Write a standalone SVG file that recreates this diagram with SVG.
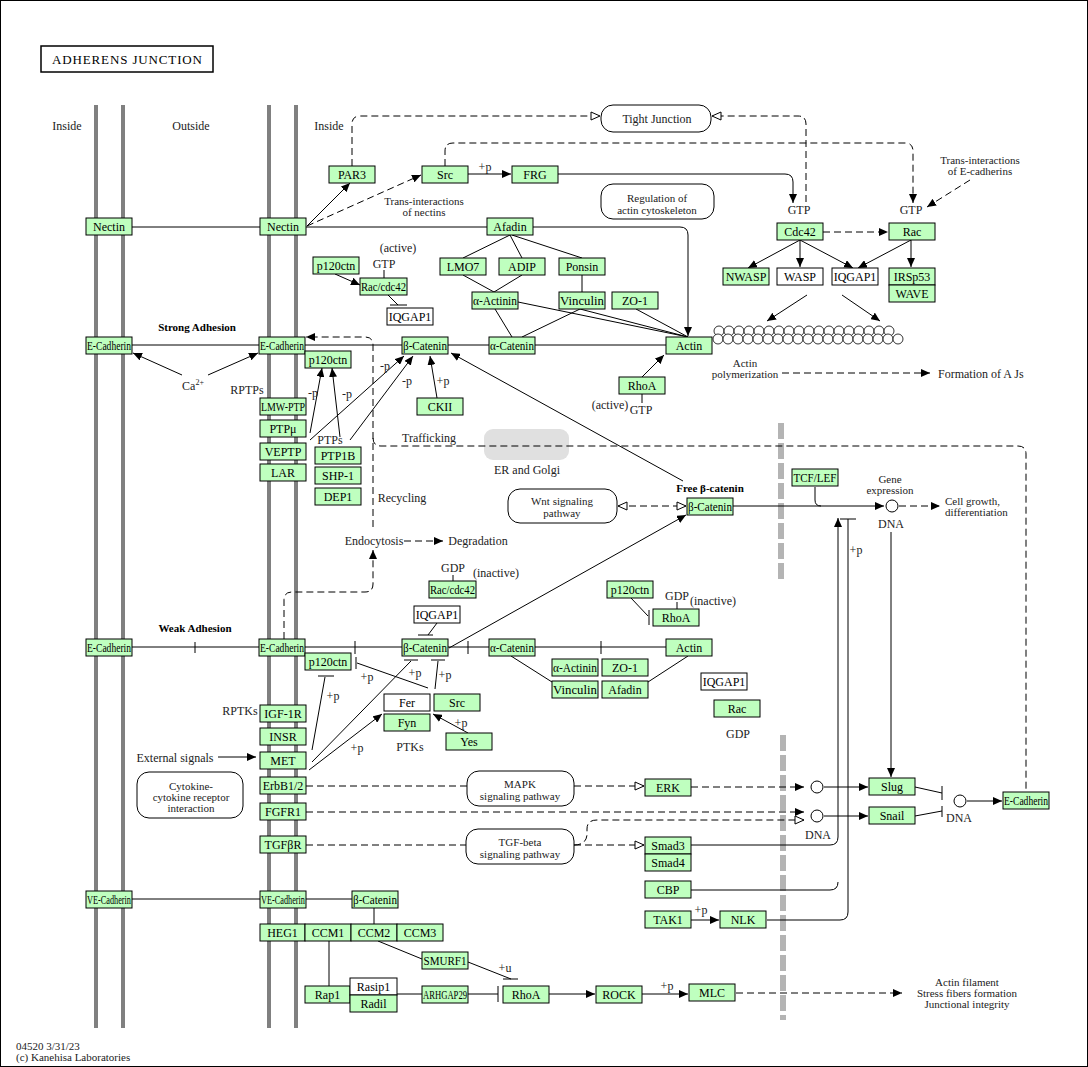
<svg xmlns="http://www.w3.org/2000/svg" width="1088" height="1067" viewBox="0 0 1088 1067">
<style>
.n{fill:#bfffbf;stroke:#000;stroke-width:1}
.w{fill:#fff;stroke:#000;stroke-width:1}
text{font-family:"Liberation Serif","Times New Roman",Times,"DejaVu Serif",serif}
.t{font-size:12px;text-anchor:middle;fill:#000}
.s{font-size:12px;text-anchor:middle;fill:#222}
.m{font-size:11px;text-anchor:middle;fill:#222}
.sl{font-size:12px;fill:#222}
.ml{font-size:11px;fill:#222}
.b{font-size:11px;font-weight:bold;text-anchor:middle;fill:#000}
.l{fill:none;stroke:#000;stroke-width:1}
.d{fill:none;stroke:#000;stroke-width:1;stroke-dasharray:7,4}
.pw{fill:#fff;stroke:#000;stroke-width:1}
.mem{stroke:#808080;stroke-width:4}
.gb{stroke:#b4b4b4;stroke-width:6;stroke-dasharray:16,4}
.bead{fill:#fff;stroke:#000;stroke-width:0.8}
</style>
<defs>
<marker id="a" viewBox="0 0 9 8" refX="9" refY="4" markerWidth="9" markerHeight="8" orient="auto" markerUnits="userSpaceOnUse"><path d="M0,0 L9,4 L0,8 z" fill="#000"/></marker>
<marker id="o" viewBox="-1 -1 11 10" refX="9" refY="4" markerWidth="11" markerHeight="10" orient="auto-start-reverse" markerUnits="userSpaceOnUse"><path d="M0,0 L9,4 L0,8 z" fill="#fff" stroke="#000" stroke-width="1"/></marker>
</defs>
<rect x="0.5" y="0.5" width="1087" height="1066" fill="#fff" stroke="#000"/>
<g id="title"><rect x="41" y="46" width="172" height="26" fill="#fff" stroke="#000" stroke-width="1.5"/><text x="127" y="64" class="t" style="font-size:13px" textLength="150" lengthAdjust="spacing">ADHERENS JUNCTION</text></g>
<g id="membranes">
<line x1="96" y1="105" x2="96" y2="1028" class="mem"/>
<line x1="123" y1="105" x2="123" y2="1028" class="mem"/>
<line x1="269" y1="105" x2="269" y2="1028" class="mem"/>
<line x1="296" y1="105" x2="296" y2="1028" class="mem"/>
<line x1="781" y1="423" x2="781" y2="580" class="gb"/>
<line x1="783" y1="735" x2="783" y2="1020" class="gb"/>
</g>
<g id="areas">
<rect x="484" y="429" width="85" height="31" rx="9" fill="#e0e0e0"/>
<rect x="601" y="105" width="110" height="27" rx="12" class="pw"/>
<rect x="601" y="184" width="113" height="35" rx="12" class="pw"/>
<rect x="508" y="489" width="109" height="34" rx="12" class="pw"/>
<rect x="467" y="771" width="107" height="35" rx="12" class="pw"/>
<rect x="466" y="829" width="108" height="35" rx="12" class="pw"/>
<rect x="137" y="772" width="106" height="46" rx="12" class="pw"/>
</g>
<g id="connectors">
<path class="l" d="M132,227 H260"/>
<path class="l" d="M306,227 H487"/>
<path class="l" d="M533,227 H680 Q688,227 688,235 V336" marker-end="url(#a)"/>
<path class="l" d="M307,226 L350,183" marker-end="url(#a)"/>
<path class="d" d="M307,226 L421,175" marker-end="url(#a)"/>
<path class="d" d="M352,166 V124 Q352,116 360,116 H600" marker-end="url(#o)"/>
<path class="d" d="M445,166 V151 Q445,143 453,143 H905 Q913,143 913,151 V203" marker-end="url(#a)"/>
<path class="l" d="M468,174 H511" marker-end="url(#a)"/>
<path class="l" d="M558,174 H785 Q793,174 793,182 V203" marker-end="url(#a)"/>
<path class="d" d="M806,202 V124 Q806,116 798,116 H712" marker-end="url(#o)"/>
<path class="d" d="M823,232 H888" marker-end="url(#a)"/>
<path class="l" d="M800,240 L748,268" marker-end="url(#a)"/>
<path class="l" d="M800,240 V267" marker-end="url(#a)"/>
<path class="l" d="M800,240 L853,268" marker-end="url(#a)"/>
<path class="l" d="M911,240 L858,268" marker-end="url(#a)"/>
<path class="l" d="M911,240 V267" marker-end="url(#a)"/>
<path class="d" d="M970,180 L927,207" marker-end="url(#a)"/>
<path class="l" d="M807,295 L767,321" marker-end="url(#a)"/>
<path class="l" d="M842,295 L880,321" marker-end="url(#a)"/>
<path class="l" d="M510,235 L463,258 M510,235 L522,258 M512,235 L582,258"/>
<path class="l" d="M463,275 L494,292 M522,275 L494,292 M582,275 V292"/>
<path class="l" d="M495,309 L512,337 M522,337 L580,309"/>
<path class="l" d="M518,302 L688,337 M580,309 L688,337 M636,309 L688,337"/>
<path class="l" d="M448,345 H489 M535,345 H666 M305,345 H402 M132,345 H259"/>
<path class="l" d="M182,375 L133,353" marker-end="url(#a)"/>
<path class="l" d="M208,375 L258,353" marker-end="url(#a)"/>
<path class="l" d="M335,274 L360,285" marker-end="url(#a)"/>
<path class="l" d="M384,270 V278"/>
<path class="l" d="M388,295 L398,305 M390,305 H407"/>
<path class="d" d="M373,527 V345 Q373,337 365,337 H306" marker-end="url(#a)"/>
<path class="d" d="M373,438 Q373,446 381,446 H1018 Q1026,446 1026,454 V792"/>
<path class="l" d="M310,433 L322,368" marker-end="url(#a)"/>
<path class="l" d="M340,437 L332,368" marker-end="url(#a)"/>
<path class="l" d="M310,440 L404,356" marker-end="url(#a)"/>
<path class="l" d="M350,440 L413,356" marker-end="url(#a)"/>
<path class="l" d="M437,398 L430,356" marker-end="url(#a)"/>
<path class="l" d="M642,377 L664,355" marker-end="url(#a)"/>
<path class="l" d="M642,393 V403"/>
<path class="l" d="M683,481 L451,353" marker-end="url(#a)"/>
<path class="l" d="M449,648 L686,515" marker-end="url(#a)"/>
<path class="d" d="M618,506 H686" marker-start="url(#o)" marker-end="url(#o)"/>
<path class="l" d="M733,506 H884" marker-end="url(#a)"/>
<path class="l" d="M815,487 V500 Q815,506 821,506"/>
<path class="d" d="M899,506 H940" marker-end="url(#a)"/>
<path class="l" d="M891,532 V777" marker-end="url(#a)"/>
<path class="l" d="M691,845 H830 Q838,845 838,837 V518" marker-end="url(#a)"/>
<path class="l" d="M691,890 H830 Q838,890 838,882"/>
<path class="l" d="M767,920 H840 Q848,920 848,912 V519 M840,519 H856"/>
<path class="d" d="M306,786 H467"/>
<path class="d" d="M574,786 H644" marker-end="url(#o)"/>
<path class="d" d="M691,787 H804" marker-end="url(#a)"/>
<path class="l" d="M824,787 H868" marker-end="url(#a)"/>
<path class="d" d="M306,812 H804" marker-end="url(#a)"/>
<path class="d" d="M574,845 Q586,845 587,835 V829 Q587,820 597,820 H804" marker-end="url(#o)"/>
<path class="l" d="M824,816 H868" marker-end="url(#a)"/>
<path class="d" d="M306,845 H466"/>
<path class="d" d="M574,845 H644" marker-end="url(#o)"/>
<path class="l" d="M915,787 L942,793 M942,786 V800"/>
<path class="l" d="M915,816 L942,811 M942,806 V817"/>
<path class="l" d="M967,801 H1002" marker-end="url(#a)"/>
<path class="l" d="M218,757 H256" marker-end="url(#a)"/>
<path class="l" d="M312,750 L325,677 M318,676 H334"/>
<path class="l" d="M312,762 L411,661 M404,660 H418"/>
<path class="l" d="M309,770 L382,714" marker-end="url(#a)"/>
<path class="l" d="M435,689 L438,661 M431,660 H445"/>
<path class="l" d="M428,688 L357,663 M356,657 V669"/>
<path class="l" d="M468,733 L433,714" marker-end="url(#a)"/>
<path class="l" d="M437,623 L428,635 M418,635 H433"/>
<path class="l" d="M453,575 V581"/>
<path class="l" d="M631,598 L648,616 M649,610 V625"/>
<path class="l" d="M677,602 V609"/>
<path class="l" d="M132,647 H259 M195,642 V653 M305,647 H402 M355,641 V654 M448,647 H489 M468,641 V654 M535,647 H666 M601,641 V654"/>
<path class="l" d="M511,656 L552,682 M648,682 L688,656"/>
<path class="l" d="M132,899 H260 M306,899 H352 M374,908 V924"/>
<path class="l" d="M329,941 V986"/>
<path class="l" d="M378,941 L422,959"/>
<path class="l" d="M468,962 L511,979 M503,979 H518"/>
<path class="l" d="M397,994 H422"/>
<path class="l" d="M468,994 H498 M498,986 V1002"/>
<path class="l" d="M549,994 H595" marker-end="url(#a)"/>
<path class="l" d="M642,994 H688" marker-end="url(#a)"/>
<path class="d" d="M736,993 H902" marker-end="url(#a)"/>
<path class="l" d="M691,920 H719" marker-end="url(#a)"/>
<path class="d" d="M404,541 H443" marker-end="url(#a)"/>
<path class="d" d="M284,639 V600 Q284,592 292,592 H365 Q373,592 373,584 V550" marker-end="url(#a)"/>
<path class="d" d="M782,373 H930" marker-end="url(#a)"/>
</g>
<g id="actin_filament">
<circle class="bead" cx="719" cy="331" r="5"/><circle class="bead" cx="729" cy="331" r="5"/><circle class="bead" cx="739" cy="331" r="5"/><circle class="bead" cx="749" cy="331" r="5"/><circle class="bead" cx="759" cy="331" r="5"/><circle class="bead" cx="769" cy="331" r="5"/><circle class="bead" cx="779" cy="331" r="5"/><circle class="bead" cx="789" cy="331" r="5"/><circle class="bead" cx="799" cy="331" r="5"/><circle class="bead" cx="809" cy="331" r="5"/><circle class="bead" cx="819" cy="331" r="5"/><circle class="bead" cx="829" cy="331" r="5"/><circle class="bead" cx="839" cy="331" r="5"/><circle class="bead" cx="849" cy="331" r="5"/><circle class="bead" cx="859" cy="331" r="5"/><circle class="bead" cx="869" cy="331" r="5"/><circle class="bead" cx="879" cy="331" r="5"/><circle class="bead" cx="889" cy="331" r="5"/>
<circle class="bead" cx="718" cy="339" r="5"/><circle class="bead" cx="728" cy="339" r="5"/><circle class="bead" cx="738" cy="339" r="5"/><circle class="bead" cx="748" cy="339" r="5"/><circle class="bead" cx="758" cy="339" r="5"/><circle class="bead" cx="768" cy="339" r="5"/><circle class="bead" cx="778" cy="339" r="5"/><circle class="bead" cx="788" cy="339" r="5"/><circle class="bead" cx="798" cy="339" r="5"/><circle class="bead" cx="808" cy="339" r="5"/><circle class="bead" cx="818" cy="339" r="5"/><circle class="bead" cx="828" cy="339" r="5"/><circle class="bead" cx="838" cy="339" r="5"/><circle class="bead" cx="848" cy="339" r="5"/><circle class="bead" cx="858" cy="339" r="5"/><circle class="bead" cx="868" cy="339" r="5"/><circle class="bead" cx="878" cy="339" r="5"/><circle class="bead" cx="888" cy="339" r="5"/><circle class="bead" cx="898" cy="339" r="5"/>
</g>
<g id="dna">
<circle cx="892" cy="506" r="6" class="w"/>
<circle cx="817" cy="787" r="6" class="w"/>
<circle cx="817" cy="816" r="6" class="w"/>
<circle cx="960" cy="801" r="6" class="w"/>
</g>
<g id="nodes">
<g id="nectin_l"><rect x="86" y="218" width="46" height="17" class="n"/><text x="109" y="231" class="t">Nectin</text></g>
<g id="nectin_r"><rect x="260" y="218" width="46" height="17" class="n"/><text x="283" y="231" class="t">Nectin</text></g>
<g id="par3"><rect x="329" y="166" width="46" height="17" class="n"/><text x="352" y="179" class="t">PAR3</text></g>
<g id="src1"><rect x="422" y="166" width="46" height="17" class="n"/><text x="445" y="179" class="t">Src</text></g>
<g id="frg"><rect x="512" y="166" width="46" height="17" class="n"/><text x="535" y="179" class="t">FRG</text></g>
<g id="afadin1"><rect x="487" y="218" width="46" height="17" class="n"/><text x="510" y="231" class="t">Afadin</text></g>
<g id="p120_1"><rect x="313" y="257" width="46" height="17" class="n"/><text x="336" y="270" class="t">p120ctn</text></g>
<g id="raccdc42_1"><rect x="360" y="278" width="47" height="17" class="n"/><text x="383.5" y="291" class="t" textLength="45" lengthAdjust="spacingAndGlyphs">Rac/cdc42</text></g>
<g id="iqgap1_1"><rect x="387" y="308" width="46" height="17" class="w"/><text x="410" y="321" class="t">IQGAP1</text></g>
<g id="lmo7"><rect x="440" y="258" width="46" height="17" class="n"/><text x="463" y="271" class="t">LMO7</text></g>
<g id="adip"><rect x="499" y="258" width="46" height="17" class="n"/><text x="522" y="271" class="t">ADIP</text></g>
<g id="ponsin"><rect x="559" y="258" width="46" height="17" class="n"/><text x="582" y="271" class="t">Ponsin</text></g>
<g id="aactinin1"><rect x="472" y="292" width="46" height="17" class="n"/><text x="495" y="305" class="t" textLength="44" lengthAdjust="spacingAndGlyphs">α-Actinin</text></g>
<g id="vinculin1"><rect x="559" y="292" width="46" height="17" class="n"/><text x="582" y="305" class="t" textLength="44" lengthAdjust="spacingAndGlyphs">Vinculin</text></g>
<g id="zo1_1"><rect x="612" y="292" width="46" height="17" class="n"/><text x="635" y="305" class="t">ZO-1</text></g>
<g id="cdc42"><rect x="777" y="223" width="46" height="17" class="n"/><text x="800" y="236" class="t">Cdc42</text></g>
<g id="rac1"><rect x="889" y="223" width="46" height="17" class="n"/><text x="912" y="236" class="t">Rac</text></g>
<g id="nwasp"><rect x="723" y="268" width="46" height="17" class="n"/><text x="746" y="281" class="t">NWASP</text></g>
<g id="wasp"><rect x="777" y="268" width="46" height="17" class="w"/><text x="800" y="281" class="t">WASP</text></g>
<g id="iqgap1_2"><rect x="832" y="268" width="46" height="17" class="w"/><text x="855" y="281" class="t">IQGAP1</text></g>
<g id="irsp53"><rect x="889" y="268" width="46" height="17" class="n"/><text x="912" y="281" class="t">IRSp53</text></g>
<g id="wave"><rect x="889" y="285" width="46" height="17" class="n"/><text x="912" y="298" class="t">WAVE</text></g>
<g id="ecad_sl"><rect x="86" y="337" width="46" height="17" class="n"/><text x="109" y="350" class="t" textLength="44" lengthAdjust="spacingAndGlyphs">E-Cadherin</text></g>
<g id="ecad_sr"><rect x="259" y="337" width="46" height="17" class="n"/><text x="282" y="350" class="t" textLength="44" lengthAdjust="spacingAndGlyphs">E-Cadherin</text></g>
<g id="p120_2"><rect x="305" y="351" width="46" height="17" class="n"/><text x="328" y="364" class="t">p120ctn</text></g>
<g id="bcat1"><rect x="402" y="337" width="46" height="17" class="n"/><text x="425" y="350" class="t" textLength="44" lengthAdjust="spacingAndGlyphs">β-Catenin</text></g>
<g id="acat1"><rect x="489" y="337" width="46" height="17" class="n"/><text x="512" y="350" class="t" textLength="44" lengthAdjust="spacingAndGlyphs">α-Catenin</text></g>
<g id="actin1"><rect x="666" y="337" width="46" height="17" class="n"/><text x="689" y="350" class="t">Actin</text></g>
<g id="lmwptp"><rect x="260" y="398" width="46" height="17" class="n"/><text x="283" y="411" class="t" textLength="44" lengthAdjust="spacingAndGlyphs">LMW-PTP</text></g>
<g id="ptpmu"><rect x="260" y="420" width="46" height="17" class="n"/><text x="283" y="433" class="t">PTPμ</text></g>
<g id="veptp"><rect x="260" y="443" width="46" height="17" class="n"/><text x="283" y="456" class="t">VEPTP</text></g>
<g id="lar"><rect x="260" y="464" width="46" height="17" class="n"/><text x="283" y="477" class="t">LAR</text></g>
<g id="ptp1b"><rect x="315" y="447" width="46" height="17" class="n"/><text x="338" y="460" class="t">PTP1B</text></g>
<g id="shp1"><rect x="315" y="467" width="46" height="17" class="n"/><text x="338" y="480" class="t">SHP-1</text></g>
<g id="dep1"><rect x="315" y="488" width="46" height="17" class="n"/><text x="338" y="501" class="t">DEP1</text></g>
<g id="ckii"><rect x="417" y="398" width="46" height="17" class="n"/><text x="440" y="411" class="t">CKII</text></g>
<g id="rhoa1"><rect x="619" y="377" width="46" height="17" class="n"/><text x="642" y="390" class="t">RhoA</text></g>
<g id="bcat_free"><rect x="687" y="498" width="46" height="17" class="n"/><text x="710" y="511" class="t" textLength="44" lengthAdjust="spacingAndGlyphs">β-Catenin</text></g>
<g id="tcflef"><rect x="792" y="469" width="46" height="17" class="n"/><text x="815" y="482" class="t" textLength="43" lengthAdjust="spacingAndGlyphs">TCF/LEF</text></g>
<g id="raccdc42_2"><rect x="429" y="581" width="47" height="17" class="n"/><text x="452.5" y="594" class="t" textLength="45" lengthAdjust="spacingAndGlyphs">Rac/cdc42</text></g>
<g id="iqgap1_3"><rect x="414" y="606" width="46" height="17" class="w"/><text x="437" y="619" class="t">IQGAP1</text></g>
<g id="p120_4"><rect x="607" y="581" width="46" height="17" class="n"/><text x="630" y="594" class="t">p120ctn</text></g>
<g id="rhoa2"><rect x="653" y="609" width="46" height="17" class="n"/><text x="676" y="622" class="t">RhoA</text></g>
<g id="ecad_wl"><rect x="86" y="639" width="46" height="17" class="n"/><text x="109" y="652" class="t" textLength="44" lengthAdjust="spacingAndGlyphs">E-Cadherin</text></g>
<g id="ecad_wr"><rect x="259" y="639" width="46" height="17" class="n"/><text x="282" y="652" class="t" textLength="44" lengthAdjust="spacingAndGlyphs">E-Cadherin</text></g>
<g id="p120_3"><rect x="305" y="653" width="46" height="17" class="n"/><text x="328" y="666" class="t">p120ctn</text></g>
<g id="bcat2"><rect x="402" y="639" width="46" height="17" class="n"/><text x="425" y="652" class="t" textLength="44" lengthAdjust="spacingAndGlyphs">β-Catenin</text></g>
<g id="acat2"><rect x="489" y="639" width="46" height="17" class="n"/><text x="512" y="652" class="t" textLength="44" lengthAdjust="spacingAndGlyphs">α-Catenin</text></g>
<g id="actin2"><rect x="666" y="639" width="46" height="17" class="n"/><text x="689" y="652" class="t">Actin</text></g>
<g id="aactinin2"><rect x="552" y="659" width="46" height="17" class="n"/><text x="575" y="672" class="t" textLength="44" lengthAdjust="spacingAndGlyphs">α-Actinin</text></g>
<g id="zo1_2"><rect x="602" y="659" width="46" height="17" class="n"/><text x="625" y="672" class="t">ZO-1</text></g>
<g id="vinculin2"><rect x="552" y="681" width="46" height="17" class="n"/><text x="575" y="694" class="t" textLength="44" lengthAdjust="spacingAndGlyphs">Vinculin</text></g>
<g id="afadin2"><rect x="602" y="681" width="46" height="17" class="n"/><text x="625" y="694" class="t">Afadin</text></g>
<g id="iqgap1_4"><rect x="701" y="673" width="46" height="17" class="w"/><text x="724" y="686" class="t">IQGAP1</text></g>
<g id="rac2"><rect x="714" y="700" width="46" height="17" class="n"/><text x="737" y="713" class="t">Rac</text></g>
<g id="fer"><rect x="384" y="694" width="46" height="17" class="w"/><text x="407" y="707" class="t">Fer</text></g>
<g id="src2"><rect x="434" y="694" width="46" height="17" class="n"/><text x="457" y="707" class="t">Src</text></g>
<g id="fyn"><rect x="384" y="714" width="46" height="17" class="n"/><text x="407" y="727" class="t">Fyn</text></g>
<g id="yes"><rect x="446" y="733" width="46" height="17" class="n"/><text x="469" y="746" class="t">Yes</text></g>
<g id="igf1r"><rect x="260" y="705" width="46" height="17" class="n"/><text x="283" y="718" class="t">IGF-1R</text></g>
<g id="insr"><rect x="260" y="728" width="46" height="17" class="n"/><text x="283" y="741" class="t">INSR</text></g>
<g id="met"><rect x="260" y="752" width="46" height="17" class="n"/><text x="283" y="765" class="t">MET</text></g>
<g id="erbb"><rect x="260" y="777" width="46" height="17" class="n"/><text x="283" y="790" class="t">ErbB1/2</text></g>
<g id="fgfr1"><rect x="260" y="803" width="46" height="17" class="n"/><text x="283" y="816" class="t">FGFR1</text></g>
<g id="tgfbr"><rect x="260" y="836" width="46" height="17" class="n"/><text x="283" y="849" class="t">TGFβR</text></g>
<g id="erk"><rect x="645" y="779" width="46" height="17" class="n"/><text x="668" y="792" class="t">ERK</text></g>
<g id="smad3"><rect x="645" y="837" width="46" height="17" class="n"/><text x="668" y="850" class="t">Smad3</text></g>
<g id="smad4"><rect x="645" y="854" width="46" height="17" class="n"/><text x="668" y="867" class="t">Smad4</text></g>
<g id="cbp"><rect x="645" y="881" width="46" height="17" class="n"/><text x="668" y="894" class="t">CBP</text></g>
<g id="tak1"><rect x="645" y="911" width="46" height="17" class="n"/><text x="668" y="924" class="t">TAK1</text></g>
<g id="nlk"><rect x="720" y="911" width="46" height="17" class="n"/><text x="743" y="924" class="t">NLK</text></g>
<g id="slug"><rect x="869" y="778" width="46" height="17" class="n"/><text x="892" y="791" class="t">Slug</text></g>
<g id="snail"><rect x="869" y="807" width="46" height="17" class="n"/><text x="892" y="820" class="t">Snail</text></g>
<g id="ecad_n"><rect x="1003" y="792" width="46" height="17" class="n"/><text x="1026" y="805" class="t" textLength="44" lengthAdjust="spacingAndGlyphs">E-Cadherin</text></g>
<g id="vecad_l"><rect x="86" y="891" width="46" height="17" class="n"/><text x="109" y="904" class="t" textLength="44" lengthAdjust="spacingAndGlyphs">VE-Cadherin</text></g>
<g id="vecad_r"><rect x="260" y="891" width="46" height="17" class="n"/><text x="283" y="904" class="t" textLength="44" lengthAdjust="spacingAndGlyphs">VE-Cadherin</text></g>
<g id="bcat3"><rect x="352" y="891" width="46" height="17" class="n"/><text x="375" y="904" class="t" textLength="44" lengthAdjust="spacingAndGlyphs">β-Catenin</text></g>
<g id="heg1"><rect x="260" y="924" width="45" height="17" class="n"/><text x="282.5" y="937" class="t">HEG1</text></g>
<g id="ccm1"><rect x="305" y="924" width="46" height="17" class="n"/><text x="328" y="937" class="t">CCM1</text></g>
<g id="ccm2"><rect x="351" y="924" width="46" height="17" class="n"/><text x="374" y="937" class="t">CCM2</text></g>
<g id="ccm3"><rect x="397" y="924" width="46" height="17" class="n"/><text x="420" y="937" class="t">CCM3</text></g>
<g id="smurf1"><rect x="422" y="952" width="46" height="17" class="n"/><text x="445" y="965" class="t" textLength="43" lengthAdjust="spacingAndGlyphs">SMURF1</text></g>
<g id="rap1"><rect x="305" y="986" width="45" height="17" class="n"/><text x="327.5" y="999" class="t">Rap1</text></g>
<g id="rasip1"><rect x="350" y="978" width="47" height="17" class="w"/><text x="373.5" y="991" class="t">Rasip1</text></g>
<g id="radil"><rect x="350" y="995" width="47" height="17" class="n"/><text x="373.5" y="1008" class="t">Radil</text></g>
<g id="arhgap29"><rect x="422" y="986" width="46" height="17" class="n"/><text x="445" y="999" class="t" textLength="44" lengthAdjust="spacingAndGlyphs">ARHGAP29</text></g>
<g id="rhoa3"><rect x="503" y="986" width="46" height="17" class="n"/><text x="526" y="999" class="t">RhoA</text></g>
<g id="rock"><rect x="596" y="986" width="46" height="17" class="n"/><text x="619" y="999" class="t">ROCK</text></g>
<g id="mlc"><rect x="689" y="984" width="46" height="17" class="n"/><text x="712" y="997" class="t">MLC</text></g>
</g>
<g id="labels">
<text x="67" y="130" class="s">Inside</text>
<text x="191" y="130" class="s">Outside</text>
<text x="329" y="130" class="s">Inside</text>
<text x="657" y="123" class="s">Tight Junction</text>
<text x="657" y="202" class="m">Regulation of</text>
<text x="657" y="214" class="m">actin cytoskeleton</text>
<text x="424" y="205" class="m">Trans-interactions</text>
<text x="424" y="216" class="m">of nectins</text>
<text x="485" y="171" class="s">+p</text>
<text x="980" y="164" class="m">Trans-interactions</text>
<text x="980" y="175" class="m">of E-cadherins</text>
<text x="799" y="214" class="s">GTP</text>
<text x="911" y="214" class="s">GTP</text>
<text x="398" y="252" class="s">(active)</text>
<text x="384" y="268" class="s">GTP</text>
<text x="197" y="331" class="b">Strong Adhesion</text>
<text x="193" y="390" class="s">Ca<tspan font-size="8" dy="-5">2+</tspan></text>
<text x="247" y="394" class="s">RPTPs</text>
<text x="313" y="397" class="s">-p</text>
<text x="347" y="398" class="s">-p</text>
<text x="385" y="370" class="s">-p</text>
<text x="407" y="385" class="s">-p</text>
<text x="443" y="385" class="s">+p</text>
<text x="330" y="444" class="s">PTPs</text>
<text x="745" y="367" class="m">Actin</text>
<text x="745" y="378" class="m">polymerization</text>
<text x="938" y="378" class="sl">Formation of A Js</text>
<text x="610" y="409" class="s">(active)</text>
<text x="641" y="414" class="s">GTP</text>
<text x="429" y="442" class="s">Trafficking</text>
<text x="527" y="474" class="s">ER and Golgi</text>
<text x="402" y="502" class="s">Recycling</text>
<text x="562" y="505" class="m">Wnt signaling</text>
<text x="562" y="517" class="m">pathway</text>
<text x="710" y="492" class="b">Free β-catenin</text>
<text x="890" y="483" class="m">Gene</text>
<text x="890" y="494" class="m">expression</text>
<text x="891" y="528" class="s">DNA</text>
<text x="945" y="505" class="ml">Cell growth,</text>
<text x="945" y="516" class="ml">differentiation</text>
<text x="856" y="554" class="s">+p</text>
<text x="374" y="545" class="s">Endocytosis</text>
<text x="478" y="545" class="s">Degradation</text>
<text x="453" y="572" class="s">GDP</text>
<text x="496" y="577" class="s">(inactive)</text>
<text x="677" y="600" class="s">GDP</text>
<text x="713" y="605" class="s">(inactive)</text>
<text x="195" y="632" class="b">Weak Adhesion</text>
<text x="333" y="700" class="s">+p</text>
<text x="367" y="681" class="s">+p</text>
<text x="415" y="677" class="s">+p</text>
<text x="445" y="679" class="s">+p</text>
<text x="461" y="727" class="s">+p</text>
<text x="357" y="752" class="s">+p</text>
<text x="410" y="751" class="s">PTKs</text>
<text x="240" y="715" class="s">RPTKs</text>
<text x="738" y="738" class="s">GDP</text>
<text x="175" y="762" class="s">External signals</text>
<text x="191" y="790" class="m">Cytokine-</text>
<text x="191" y="801" class="m">cytokine receptor</text>
<text x="191" y="812" class="m">interaction</text>
<text x="520" y="788" class="m">MAPK</text>
<text x="520" y="800" class="m">signaling pathway</text>
<text x="520" y="846" class="m">TGF-beta</text>
<text x="520" y="858" class="m">signaling pathway</text>
<text x="818" y="839" class="s">DNA</text>
<text x="959" y="822" class="s">DNA</text>
<text x="701" y="914" class="s">+p</text>
<text x="505" y="972" class="s">+u</text>
<text x="667" y="990" class="s">+p</text>
<text x="967" y="986" class="m">Actin filament</text>
<text x="967" y="997" class="m">Stress fibers formation</text>
<text x="967" y="1008" class="m">Junctional integrity</text>
<text x="16" y="1050" class="ml">04520 3/31/23</text>
<text x="16" y="1061" class="ml">(c) Kanehisa Laboratories</text>
</g>
</svg>
